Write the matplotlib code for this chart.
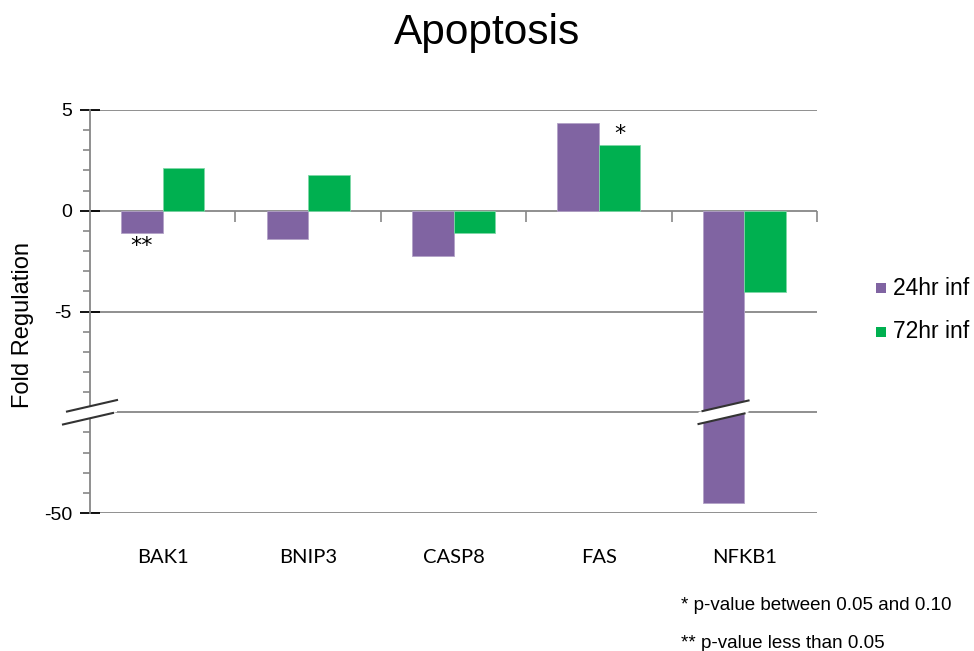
import numpy as np
import matplotlib
matplotlib.use("Agg")
import matplotlib.pyplot as plt
import matplotlib.transforms as mtransforms
from matplotlib.patches import Polygon, Rectangle
from matplotlib.lines import Line2D
from matplotlib.markers import TICKDOWN

# ---- data ----
genes = ["BAK1", "BNIP3", "CASP8", "FAS", "NFKB1"]
inf_24hr = [-1.1, -1.4, -2.25, 4.35, -46.0]
inf_72hr = [2.1, 1.75, -1.1, 3.25, -4.05]
series_names = ["24hr inf", "72hr inf"]
ytick_vals = [5, 0, -5, -10, -50]
ytick_labels = ["5", "0", "-5", "", "-50"]
sig_24 = ["**", "", "", "", ""]
sig_72 = ["", "", "", "*", ""]
footnotes = ["* p-value between 0.05 and 0.10", "** p-value less than 0.05"]

PURPLE = "#8064A2"
GREEN = "#00B050"
GRID = "#878787"

BREAK = -10.0
SQUEEZE = 8.0


def fwd(v):
    v = np.asarray(v, dtype=float)
    return np.where(v >= BREAK, v, BREAK + (v - BREAK) / SQUEEZE)


def inv(y):
    y = np.asarray(y, dtype=float)
    return np.where(y >= BREAK, y, BREAK + (y - BREAK) * SQUEEZE)


W, H = 974, 651
fig = plt.figure(figsize=(W / 100, H / 100), dpi=100)
ax = fig.add_axes([90 / W, 1 - 513 / H, (817 - 90) / W, (513 - 110) / H])
ax.set_yscale("function", functions=(fwd, inv))

x = np.arange(len(genes))
bw = 0.2857
ax.bar(x - bw / 2, inf_24hr, width=bw, color=PURPLE, edgecolor="#B3A2C7", linewidth=0.6, zorder=3)
ax.bar(x + bw / 2, inf_72hr, width=bw, color=GREEN, edgecolor="#7FD7A7", linewidth=0.6, zorder=3)

ax.set_xlim(-0.5, len(genes) - 0.5)
ax.set_ylim(-50, 5)

# gridlines
for v in ytick_vals:
    ax.axhline(v, color=GRID, lw=1.3, zorder=1)

# category boundary ticks on zero line
bx = np.arange(len(genes) + 1) - 0.5
ax.plot(bx[1:], np.zeros(len(bx) - 1), ls="none", marker=TICKDOWN, ms=8, mew=1.2,
        color=GRID, zorder=4, clip_on=False)

for s in ["top", "right", "bottom"]:
    ax.spines[s].set_visible(False)
ax.spines["left"].set_color(GRID)
ax.spines["left"].set_linewidth(1.3)

ax.set_yticks(ytick_vals)
ax.set_yticklabels(ytick_labels)
minor_lin = [v for v in np.arange(-15, 6, 1) if v % 5 != 0]
ax.yaxis.set_minor_locator(matplotlib.ticker.FixedLocator(inv(minor_lin)))
ax.tick_params(axis="y", which="major", direction="inout", length=14, width=1.3,
               color="black", labelsize=14, pad=6)
ax.tick_params(axis="y", which="minor", direction="out", length=5, width=1.2, color=GRID)
for t in ax.get_yticklabels():
    t.set_fontfamily("Liberation Sans")

ax.set_xticks(x)
ax.set_xticklabels(genes, fontfamily="Lato", fontsize=14.5)
ax.tick_params(axis="x", length=0, pad=26)

ax.set_ylabel("Fold Regulation", fontsize=17, fontfamily="Liberation Sans")
ax.yaxis.set_label_coords((34 - 90) / (817 - 90), (513 - 325) / (513 - 110))

# significance marks
for i in range(len(genes)):
    if sig_24[i]:
        ax.annotate(sig_24[i], (x[i] - bw / 2, inf_24hr[i]), xytext=(0, -2), textcoords="offset points",
                    ha="center", va="top", fontsize=16, fontfamily="DejaVu Sans", zorder=5)
    if sig_72[i]:
        ax.annotate(sig_72[i], (x[i] + bw / 2, inf_72hr[i]), xytext=(0, 1), textcoords="offset points",
                    ha="center", va="bottom", fontsize=16, fontfamily="DejaVu Sans", zorder=5)

fig.suptitle("Apoptosis", x=487 / W, y=1 - 33 / H, va="center", fontsize=30.5, fontfamily="Liberation Sans")

# break markers (drawn in pixel space around data anchor)
ident = mtransforms.IdentityTransform()


def draw_break(xd, yd, half_w):
    cx, cy = ax.transData.transform((xd, yd))
    slope = 0.23
    gap = 12
    def pt(dx, dy):
        return (cx + dx, cy + dy + dx * slope)
    poly = Polygon([pt(-half_w, -gap / 2), pt(half_w, -gap / 2), pt(half_w, gap / 2), pt(-half_w, gap / 2)],
                   closed=True, transform=ident, facecolor="white", edgecolor="none", zorder=10)
    fig.add_artist(poly)
    for sgn in (-1, 1):
        a = pt(-half_w + (4 if sgn > 0 else 0), sgn * gap / 2)
        b = pt(half_w - (0 if sgn > 0 else 4), sgn * gap / 2)
        fig.add_artist(Line2D([a[0], b[0]], [a[1], b[1]], transform=ident, color="#333333", lw=1.5, zorder=11))


draw_break(-0.5, BREAK, 27)
draw_break(4 - bw / 2, BREAK, 25)

# legend
for k, (name, col) in enumerate(zip(series_names, [PURPLE, GREEN])):
    yc = 1 - (288 + 44 * k) / H
    fig.add_artist(Rectangle((876 / W, yc - 5 / H), 10 / W, 10 / H, transform=fig.transFigure,
                             facecolor=col, edgecolor="none"))
    fig.text(893 / W, yc, name, va="center", ha="left", fontsize=16.5, fontfamily="Liberation Sans")

# footnotes
fig.text(681 / W, 1 - 606 / H, footnotes[0], va="center", ha="left", fontsize=13.5,
         fontfamily="Liberation Sans")
fig.text(681 / W, 1 - 643 / H, footnotes[1], va="center", ha="left", fontsize=13.5,
         fontfamily="Liberation Sans")

fig.savefig("out.png", dpi=100)
